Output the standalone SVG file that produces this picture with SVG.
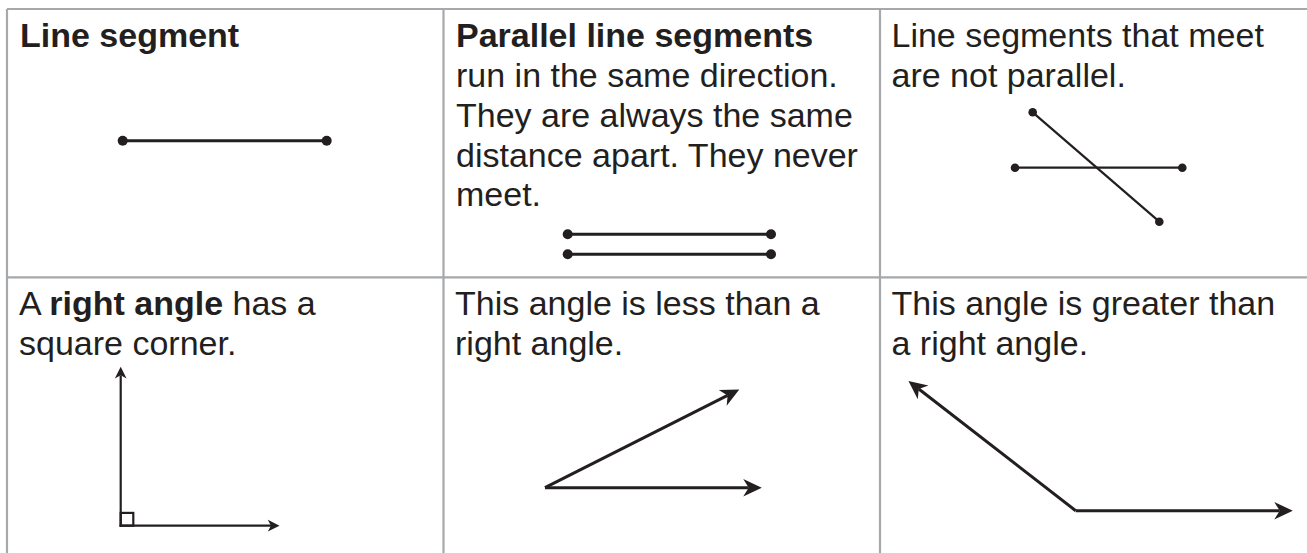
<svg xmlns="http://www.w3.org/2000/svg" width="1307" height="553" viewBox="0 0 1307 553">
  <style>
    .grid { stroke: #a6a8ab; stroke-width: 2.2; fill: none; }
    .t { font-family: "Liberation Sans", Arial, Helvetica, sans-serif; font-size: 34px; fill: #231f20; }
    .b { font-weight: bold; }
    .seg { stroke: #231f20; stroke-width: 3; fill: none; }
    .thin { stroke: #231f20; stroke-width: 2.2; fill: none; }
    .dot { fill: #231f20; }
    .ray { stroke: #231f20; stroke-width: 3; fill: none; marker-end: url(#big); }
    .ray2 { stroke: #231f20; stroke-width: 2.2; fill: none; marker-end: url(#small); }
  </style>
  <defs>
    <marker id="big" markerUnits="userSpaceOnUse" markerWidth="24" markerHeight="24" viewBox="-2 -10 22 20" refX="5" refY="0" orient="auto" overflow="visible">
      <path d="M0,-8 L17,0 L0,8 L5,0 Z" fill="#231f20"/>
    </marker>
    <marker id="small" markerUnits="userSpaceOnUse" markerWidth="16" markerHeight="16" viewBox="-2 -7 15 14" refX="3" refY="0" orient="auto" overflow="visible">
      <path d="M0,-5.5 L11,0 L0,5.5 L3,0 Z" fill="#231f20"/>
    </marker>
  </defs>
  <rect width="1307" height="553" fill="#ffffff"/>

  <g id="grid">
    <line class="grid" x1="7" y1="9" x2="1307" y2="9"/>
    <line class="grid" x1="7" y1="277.3" x2="1307" y2="277.3"/>
    <line class="grid" x1="7" y1="9" x2="7" y2="553"/>
    <line class="grid" x1="443.5" y1="9" x2="443.5" y2="553"/>
    <line class="grid" x1="880" y1="9" x2="880" y2="553"/>
  </g>

  <g id="cell-line-segment">
    <text class="t b" x="20" y="47">Line segment</text>
    <line class="seg" x1="122.7" y1="140.7" x2="326.7" y2="140.7"/>
    <circle class="dot" cx="122.7" cy="140.7" r="5"/>
    <circle class="dot" cx="326.7" cy="140.7" r="5"/>
  </g>

  <g id="cell-parallel">
    <text class="t" x="456">
      <tspan class="b" x="456" y="47">Parallel line segments</tspan>
      <tspan x="456" y="87">run in the same direction.</tspan>
      <tspan x="456" y="127">They are always the same</tspan>
      <tspan x="456" y="166.5">distance apart. They never</tspan>
      <tspan x="456" y="206">meet.</tspan>
    </text>
    <line class="seg" x1="567.7" y1="234.3" x2="771" y2="234.3"/>
    <line class="seg" x1="567.7" y1="254.3" x2="771" y2="254.3"/>
    <circle class="dot" cx="567.7" cy="234.3" r="5"/>
    <circle class="dot" cx="771" cy="234.3" r="5"/>
    <circle class="dot" cx="567.7" cy="254.3" r="5"/>
    <circle class="dot" cx="771" cy="254.3" r="5"/>
  </g>

  <g id="cell-not-parallel">
    <text class="t" x="891.5">
      <tspan x="891.5" y="47">Line segments that meet</tspan>
      <tspan x="891.5" y="87">are not parallel.</tspan>
    </text>
    <line class="thin" x1="1015" y1="167.7" x2="1182.3" y2="167.7"/>
    <line class="thin" x1="1032.7" y1="112.3" x2="1159.3" y2="221.7"/>
    <circle class="dot" cx="1015" cy="167.7" r="4.3"/>
    <circle class="dot" cx="1182.3" cy="167.7" r="4.3"/>
    <circle class="dot" cx="1032.7" cy="112.3" r="4.3"/>
    <circle class="dot" cx="1159.3" cy="221.7" r="4.3"/>
  </g>

  <g id="cell-right-angle">
    <text class="t" x="19">
      <tspan x="19" y="315">A <tspan class="b">right angle</tspan> has a</tspan>
      <tspan x="19" y="355">square corner.</tspan>
    </text>
    <rect class="thin" x="120.7" y="512.9" width="12.6" height="12.8"/>
  </g>

  <g id="cell-acute">
    <text class="t" x="455">
      <tspan x="455" y="315">This angle is less than a</tspan>
      <tspan x="455" y="355">right angle.</tspan>
    </text>
  </g>

  <g id="cell-obtuse">
    <text class="t" x="891.5">
      <tspan x="891.5" y="315">This angle is greater than</tspan>
      <tspan x="891.5" y="355">a right angle.</tspan>
    </text>
  </g>

  <g id="connectors">
    <line class="ray2" x1="120.7" y1="526.8" x2="120.7" y2="375.3"/>
    <line class="ray2" x1="119.6" y1="525.7" x2="271" y2="525.7"/>
    <line class="ray" x1="545" y1="487.7" x2="727.6" y2="395.4"/>
    <line class="ray" x1="545" y1="487.7" x2="748.7" y2="487.7"/>
    <line class="ray" x1="1075.7" y1="510.7" x2="918.8" y2="389.05"/>
    <line class="ray" x1="1075.7" y1="510.7" x2="1279.7" y2="510.7"/>
  </g>
</svg>
